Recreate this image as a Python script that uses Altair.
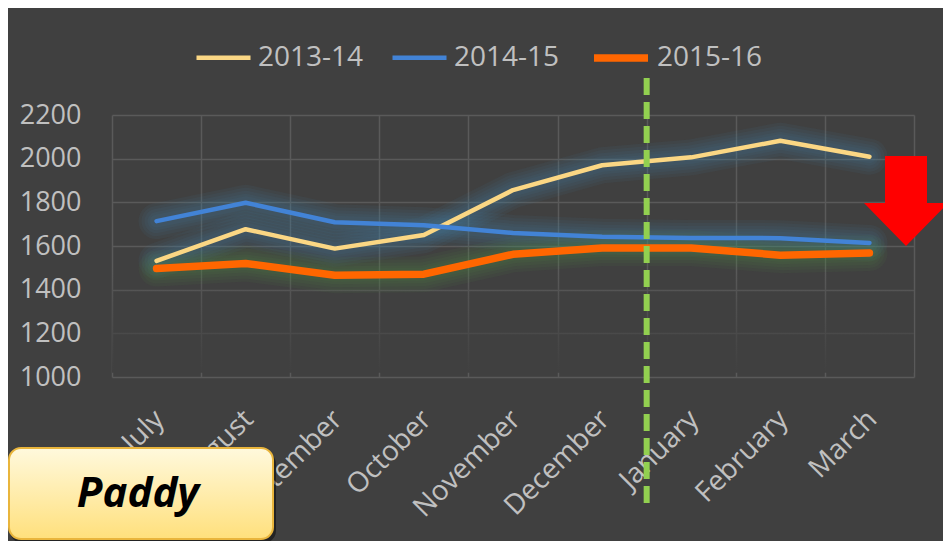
import altair as alt
import pandas as pd

months = ["July", "August", "September", "October", "November", "December",
          "January", "February", "March"]
seasons = ["2013-14", "2014-15", "2015-16"]
s1314 = [1532, 1677, 1588, 1650, 1856, 1970, 2006, 2082, 2009]
s1415 = [1714, 1798, 1709, 1695, 1660, 1642, 1637, 1636, 1614]
s1516 = [1497, 1520, 1466, 1471, 1562, 1591, 1591, 1558, 1568]
y_ticks = [1000, 1200, 1400, 1600, 1800, 2000, 2200]
line_colors = ["#fbd784", "#4283d6", "#ff6600"]
line_widths = [4.5, 4.5, 7.5]
label_text = "Paddy"

rows = []
for season, vals in zip(seasons, [s1314, s1415, s1516]):
    for m, v in zip(months, vals):
        rows.append({"month": m, "value": v, "season": season})
df = pd.DataFrame(rows)

FONT = "Open Sans"
LABEL = "#c0c0c0"
BG = "#404040"

x_enc = alt.X("month:N", sort=months,
              scale=alt.Scale(type="band", domain=months, paddingInner=0, paddingOuter=0),
              axis=alt.Axis(title=None, domain=False, ticks=False, grid=True,
                            tickBand="extent", gridColor="#5a5a5a", gridWidth=1.5,
                            labelAngle=-45, labelAlign="right", labelBaseline="top",
                            labelPadding=28, labelOffset=-7, labelFont=FONT, labelFontSize=28,
                            labelColor=LABEL))
y_enc = alt.Y("value:Q", scale=alt.Scale(domain=[1000, 2200], nice=False, zero=False),
              axis=alt.Axis(title=None, domain=False, ticks=False, values=y_ticks,
                            format="d", grid=True, gridColor="#5a5a5a", gridWidth=1.5,
                            labelFont=FONT, labelFontSize=27, labelColor=LABEL,
                            labelPadding=31, labelBaseline="middle"))

base = alt.Chart(df)

# fade of the grid toward the bottom
fade = alt.Chart(alt.Data(values=[{}])).mark_rect(
    fill=alt.Gradient(gradient="linear",
                      stops=[alt.GradientStop(color="rgba(64,64,64,0)", offset=0),
                             alt.GradientStop(color="rgba(64,64,64,1)", offset=1)],
                      x1=0, x2=0, y1=0, y2=1)
).encode(y=alt.datum(1500), y2=alt.datum(1020))

glow_color = alt.condition("datum.season == '2015-16'", alt.value("#4f9a45"), alt.value("#3d8cab"))
glows = []
for w in [36, 30, 24, 18, 13]:
    glows.append(base.mark_line(strokeCap="round", strokeJoin="round", opacity=0.075,
                                strokeWidth=w).encode(
        x=x_enc, y=y_enc, detail="season:N", color=glow_color))

lines = base.mark_line(strokeCap="round", strokeJoin="round").encode(
    x=x_enc, y=y_enc,
    color=alt.Color("season:N", scale=alt.Scale(domain=seasons, range=line_colors),
                    legend=alt.Legend(title=None)),
    strokeWidth=alt.StrokeWidth("season:N",
                                scale=alt.Scale(type="ordinal", domain=seasons,
                                                range=line_widths),
                                legend=alt.Legend(title=None)),
    order=alt.Order("season:N"),
)

one = alt.Data(values=[{}])
divider = alt.Chart(one).mark_rule(color="#92d050", strokeWidth=6, strokeDash=[17, 7]).encode(
    x=alt.X(datum="January", type="nominal", bandPosition=0),
    y=alt.value(-37), y2=alt.value(394))

arrow = alt.Chart(one).mark_point(
    shape="M-0.5,-1.07 L0.5,-1.07 L0.5,0.05 L1,0.05 L0,1.07 L-1,0.05 L-0.5,0.05 Z",
    filled=True, color="#ff0000", opacity=1, size=7056, strokeWidth=0
).encode(x=alt.value(794), y=alt.value(86))

shadow = alt.Chart(one).mark_rect(cornerRadius=12, color="#000000", opacity=0.45).encode(
    x=alt.value(-102), x2=alt.value(164), y=alt.value(337), y2=alt.value(428))
box = alt.Chart(one).mark_rect(
    cornerRadius=12, stroke="#e9b53c", strokeWidth=2,
    fill=alt.Gradient(gradient="linear",
                      stops=[alt.GradientStop(color="#fff9dd", offset=0),
                             alt.GradientStop(color="#ffe07c", offset=1)],
                      x1=0, x2=0, y1=0, y2=1)
).encode(x=alt.value(-103), x2=alt.value(161), y=alt.value(333), y2=alt.value(424))
paddy = alt.Chart(alt.Data(values=[{"t": label_text}])).mark_text(
    font=FONT, fontSize=42, fontWeight="bold", fontStyle="italic", color="#000000",
    align="center", baseline="middle"
).encode(x=alt.value(26), y=alt.value(379), text="t:N")

chart = alt.layer(fade, *glows, lines, divider, arrow, shadow, box, paddy).properties(
    width=802, height=262,
    autosize=alt.AutoSizeParams(type="none"),
    padding={"left": 104, "top": 107, "right": 29, "bottom": 164},
    background=BG,
).configure_view(stroke=None).configure_legend(
    orient="none", legendX=82, legendY=-88, direction="horizontal",
    labelFont=FONT, labelFontSize=28, labelColor=LABEL, symbolType="stroke",
    symbolSize=2916, columnPadding=19, labelOffset=5, padding=0,
)

chart.save("out.html", embed_options={"renderer": "svg", "actions": False})
